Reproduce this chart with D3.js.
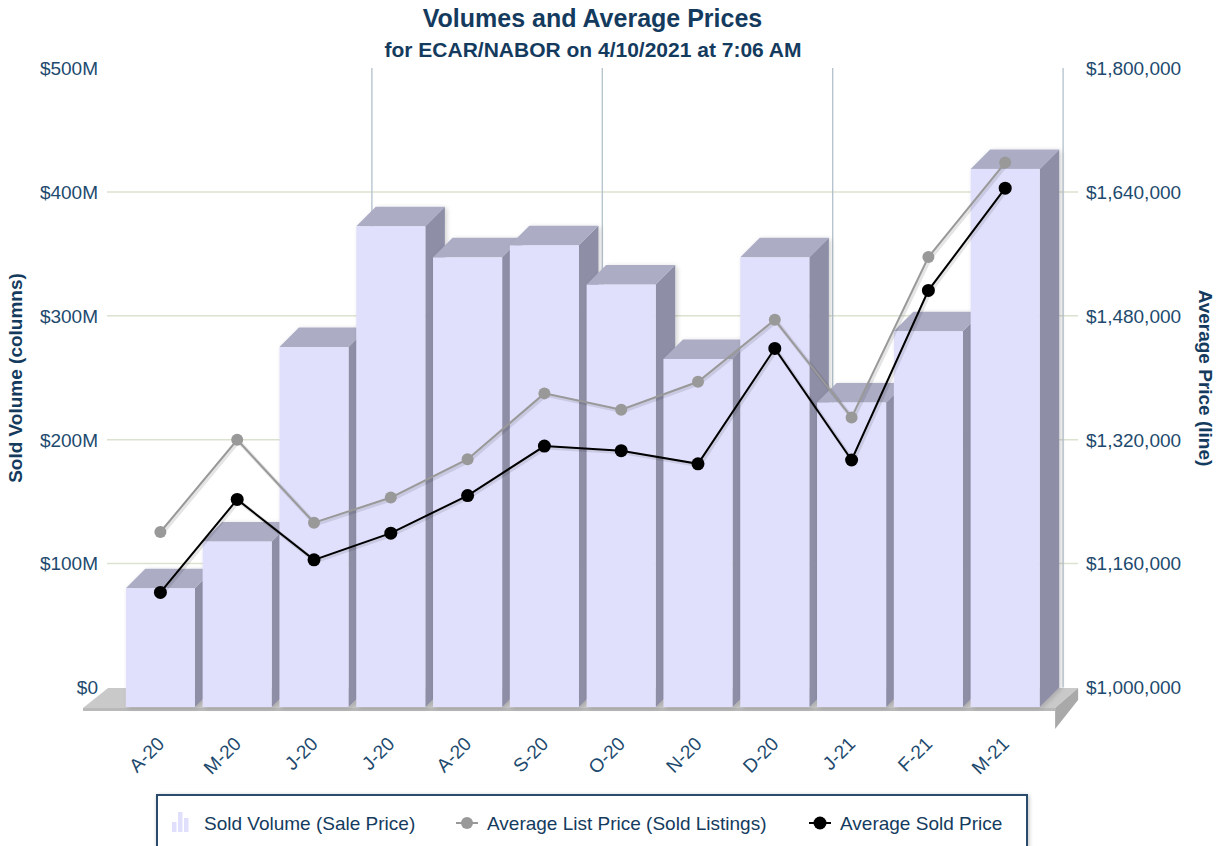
<!DOCTYPE html>
<html>
<head>
<meta charset="utf-8">
<script src="https://cdn.jsdelivr.net/npm/d3@7"></script>
<style>
  html, body { margin: 0; padding: 0; background: #fff; }
  svg { display: block; font-family: "Liberation Sans", Arial, Helvetica, sans-serif; }
</style>
</head>
<body>
<svg id="chart" width="1218" height="846"></svg>
<script>
// ---------------- DATA ----------------
const categories = ["A-20","M-20","J-20","J-20","A-20","S-20","O-20","N-20","D-20","J-21","F-21","M-21"];
// Sold Volume (Sale Price), in $ millions
const soldVolume = [95.9, 133.5, 290.5, 388.0, 362.9, 372.6, 340.9, 280.9, 362.9, 245.8, 303.2, 434.3];
// Average List Price (Sold Listings)
const avgListPrice = [1226000, 1345000, 1238000, 1270500, 1320000, 1405000, 1384000, 1420000, 1500000, 1374000, 1581000, 1703000];
// Average Sold Price
const avgSoldPrice = [1148000, 1268000, 1190000, 1224500, 1273000, 1337000, 1331000, 1314000, 1463000, 1319000, 1538000, 1670000];
const leftTicks = [0, 100, 200, 300, 400, 500];
const leftTickLabels = ["$0", "$100M", "$200M", "$300M", "$400M", "$500M"];
const rightTicks = [1000000, 1160000, 1320000, 1480000, 1640000, 1800000];
const rightTickLabels = ["$1,000,000", "$1,160,000", "$1,320,000", "$1,480,000", "$1,640,000", "$1,800,000"];
const legendLabels = ["Sold Volume (Sale Price)", "Average List Price (Sold Listings)", "Average Sold Price"];

// ---------------- LAYOUT ----------------
const svg = d3.select("#chart");
const plotL = 122, plotR = 1043.6;
const frontBottom = 707, frontTop = 87.5;  // front plane (z = 0)
const DX = 19.5, DY = 19.5;                 // depth projection offset (back plane)
const textColor = "#1d4a6e";
const titleColor = "#143b5e";
const FONT = 19;

const x = d3.scaleBand().domain(d3.range(categories.length)).range([plotL, plotR]).padding(0);
const step = x.step();
const barW = step * 0.9;
const cx = i => x(i) + step / 2;

const yL = d3.scaleLinear().domain([0, 500]).range([frontBottom, frontTop]);
const yR = d3.scaleLinear().domain([1000000, 1800000]).range([frontBottom, frontTop]);

const back = (px, py) => [px + DX, py - DY];

// defs
const defs = svg.append("defs");
const f = defs.append("filter").attr("id", "barShadow").attr("x", "-20%").attr("y", "-20%").attr("width", "140%").attr("height", "140%");
f.append("feGaussianBlur").attr("in", "SourceAlpha").attr("stdDeviation", 2.5);
f.append("feOffset").attr("dx", 2).attr("dy", 1).attr("result", "ob");
f.append("feComponentTransfer").append("feFuncA").attr("type", "linear").attr("slope", 0.18);
const fm = f.append("feMerge");
fm.append("feMergeNode");
fm.append("feMergeNode").attr("in", "SourceGraphic");

const lf = defs.append("filter").attr("id", "legShadow").attr("x", "-5%").attr("y", "-20%").attr("width", "110%").attr("height", "150%");
lf.append("feGaussianBlur").attr("in", "SourceAlpha").attr("stdDeviation", 2);
lf.append("feOffset").attr("dx", 1).attr("dy", 1);
lf.append("feComponentTransfer").append("feFuncA").attr("type", "linear").attr("slope", 0.25);
const lfm = lf.append("feMerge");
lfm.append("feMergeNode");
lfm.append("feMergeNode").attr("in", "SourceGraphic");

// ---------------- TITLES ----------------
svg.append("text").attr("x", 592.5).attr("y", 27).attr("text-anchor", "middle")
  .attr("font-size", 25).attr("font-weight", "bold").attr("fill", titleColor)
  .text("Volumes and Average Prices");
svg.append("text").attr("x", 593).attr("y", 57).attr("text-anchor", "middle")
  .attr("font-size", 21).attr("font-weight", "bold").attr("fill", titleColor)
  .text("for ECAR/NABOR on 4/10/2021 at 7:06 AM");

// ---------------- BACK WALL GRID ----------------
const grid = svg.append("g");
leftTicks.forEach(t => {
  if (t === 0 || t === 500) return;
  const by = back(0, yL(t))[1];
  grid.append("line").attr("x1", 107).attr("x2", plotR + DX + 15)
    .attr("y1", by).attr("y2", by)
    .attr("stroke", "#dbe2cf").attr("stroke-width", 1.5);
});
[3, 6, 9, 12].forEach(k => {
  const bx = plotL + k * step + DX;
  grid.append("line").attr("x1", bx).attr("x2", bx)
    .attr("y1", back(0, yL(500))[1]).attr("y2", back(0, yL(0))[1])
    .attr("stroke", "#b3c1cc").attr("stroke-width", 1.3);
});

// ---------------- FLOOR ----------------
const fl = plotL - 39, fr = plotR + 11.5;
const floorG = svg.append("g");
const pts = a => a.map(p => p.join(",")).join(" ");
floorG.append("polygon")
  .attr("points", pts([[fl, frontBottom + 1], [fr, frontBottom + 1], [fr + 23, frontBottom - 19], [fl + 25, frontBottom - 19]]))
  .attr("fill", "#c9c9c9");
floorG.append("rect").attr("x", fl).attr("y", frontBottom + 1).attr("width", fr - fl).attr("height", 3)
  .attr("fill", "#b9b9b9");
floorG.append("polygon")
  .attr("points", pts([[fr, frontBottom + 1], [fr + 23, frontBottom - 19], [fr + 23, frontBottom - 7], [fr, frontBottom + 22]]))
  .attr("fill", "#a9a9a9");

// ---------------- AXIS LABELS ----------------
leftTicks.forEach((t, i) => {
  svg.append("text").attr("x", 98).attr("y", back(0, yL(t))[1]).attr("dy", "0.36em")
    .attr("text-anchor", "end").attr("font-size", FONT).attr("fill", textColor)
    .text(leftTickLabels[i]);
});
rightTicks.forEach((t, i) => {
  svg.append("text").attr("x", 1086).attr("y", back(0, yR(t))[1]).attr("dy", "0.36em")
    .attr("text-anchor", "start").attr("font-size", FONT).attr("fill", textColor)
    .text(rightTickLabels[i]);
});
svg.append("text").attr("transform", "translate(22,378) rotate(-90)")
  .attr("text-anchor", "middle").attr("font-size", FONT).attr("font-weight", "bold").attr("fill", titleColor)
  .text("Sold Volume (columns)");
svg.append("text").attr("transform", "translate(1199,378) rotate(90)")
  .attr("text-anchor", "middle").attr("font-size", FONT).attr("font-weight", "bold").attr("fill", titleColor)
  .text("Average Price (line)");

categories.forEach((c, i) => {
  svg.append("text").attr("transform", `translate(${cx(i) + 5},${745}) rotate(-45)`)
    .attr("text-anchor", "end").attr("font-size", FONT).attr("fill", textColor)
    .text(c);
});

// ---------------- BARS ----------------
const barsG = svg.append("g");
soldVolume.forEach((v, i) => {
  const x0 = cx(i) - barW / 2, x1 = x0 + barW;
  const yt = yL(v), yb = yL(0);
  const g = barsG.append("g").attr("filter", "url(#barShadow)");
  g.append("polygon").attr("points", pts([[x1, yt], back(x1, yt), back(x1, yb), [x1, yb]]))
    .attr("fill", "#8e8ea7");
  g.append("polygon").attr("points", pts([[x0, yt], [x1, yt], back(x1, yt), back(x0, yt)]))
    .attr("fill", "#acacc5");
  g.append("rect").attr("x", x0).attr("y", yt).attr("width", barW).attr("height", yb - yt)
    .attr("fill", "#e0e0fc");
});

// ---------------- LINES ----------------
function drawLine(values, color, r) {
  const line = d3.line().x((d, i) => cx(i)).y(d => yR(d));
  svg.append("path").datum(values).attr("d", line)
    .attr("fill", "none").attr("stroke", "rgba(0,0,0,0.10)").attr("stroke-width", 4)
    .attr("transform", "translate(1.5,1.5)");
  svg.append("path").datum(values).attr("d", line)
    .attr("fill", "none").attr("stroke", color).attr("stroke-width", 2);
  svg.append("g").selectAll("circle").data(values).join("circle")
    .attr("cx", (d, i) => cx(i)).attr("cy", d => yR(d)).attr("r", r)
    .attr("fill", color);
}
drawLine(avgListPrice, "#999999", 6);
drawLine(avgSoldPrice, "#000000", 6.5);

// ---------------- LEGEND ----------------
const lg = svg.append("g");
lg.append("rect").attr("x", 157).attr("y", 795).attr("width", 870).attr("height", 60)
  .attr("fill", "#fff").attr("stroke", "#2a4b69").attr("stroke-width", 2)
  .attr("filter", "url(#legShadow)");
const ly = 823;
[[172, 10], [178, 20], [184, 14]].forEach(([bx, bh]) => {
  lg.append("rect").attr("x", bx).attr("y", 832 - bh).attr("width", 4.5).attr("height", bh).attr("fill", "#e0e0fc");
});
lg.append("text").attr("x", 204).attr("y", ly).attr("dy", "0.35em").attr("font-size", FONT).attr("fill", titleColor).text(legendLabels[0]);
lg.append("line").attr("x1", 456).attr("x2", 478).attr("y1", ly).attr("y2", ly).attr("stroke", "#999999").attr("stroke-width", 2);
lg.append("circle").attr("cx", 467).attr("cy", ly).attr("r", 6).attr("fill", "#999999");
lg.append("text").attr("x", 487).attr("y", ly).attr("dy", "0.35em").attr("font-size", FONT).attr("fill", titleColor).text(legendLabels[1]);
lg.append("line").attr("x1", 809).attr("x2", 831).attr("y1", ly).attr("y2", ly).attr("stroke", "#000").attr("stroke-width", 2);
lg.append("circle").attr("cx", 820).attr("cy", ly).attr("r", 6.5).attr("fill", "#000");
lg.append("text").attr("x", 840).attr("y", ly).attr("dy", "0.35em").attr("font-size", FONT).attr("fill", titleColor).text(legendLabels[2]);
</script>
</body>
</html>
